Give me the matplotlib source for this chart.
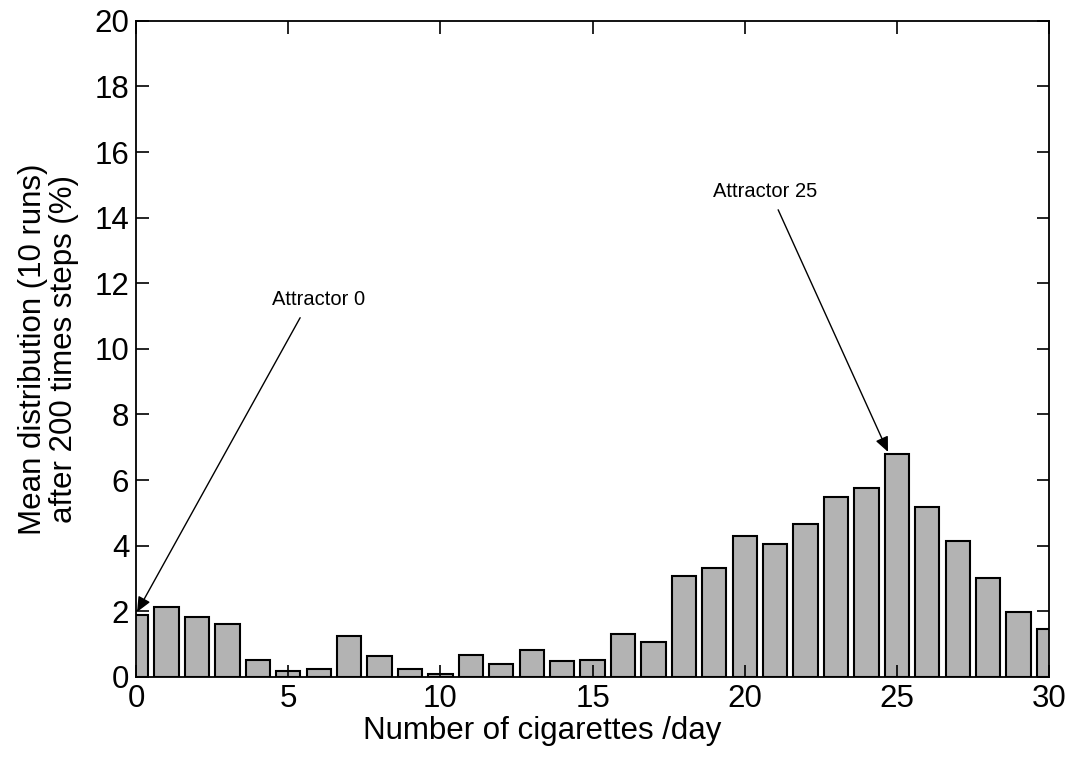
import matplotlib
matplotlib.use("Agg")
import matplotlib.pyplot as plt

plt.rcParams["font.family"] = ["Liberation Sans", "DejaVu Sans"]

# cigarettes per day and mean distribution (%)
cigarettes = list(range(0, 31))
distribution = [1.89, 2.14, 1.84, 1.60, 0.53, 0.18, 0.23, 1.26, 0.63, 0.24,
                0.09, 0.67, 0.38, 0.82, 0.49, 0.53, 1.30, 1.06, 3.07, 3.31,
                4.29, 4.05, 4.67, 5.47, 5.75, 6.78, 5.17, 4.14, 3.01, 1.99,
                1.45]

x_ticks = [0, 5, 10, 15, 20, 25, 30]
y_ticks = list(range(0, 21, 2))

fig = plt.figure(figsize=(10.72, 7.58), dpi=100)
ax = fig.add_axes([0.127, 0.107, 0.8515, 0.8655])

ax.bar(cigarettes, distribution, width=0.8, color="#b3b3b3",
       edgecolor="black", linewidth=1.5)

ax.set_xlim(0, 30)
ax.set_ylim(0, 20)
ax.set_xticks(x_ticks)
ax.set_yticks(y_ticks)
ax.tick_params(direction="in", top=True, right=True, length=9,
               width=1.2, labelsize=22.5, pad=5)
for s in ax.spines.values():
    s.set_linewidth(1.3)

# xlabel sits a bit left of centre in the original
ax.set_xlabel("Number of cigarettes /day", fontsize=22.5)
ax.xaxis.set_label_coords(0.445, -0.059, transform=ax.transAxes)
ax.set_ylabel("Mean distribution (10 runs)\nafter 200 times steps (%)",
              fontsize=22.5, labelpad=11, linespacing=1.05)

arrow = dict(arrowstyle="-|>,head_length=0.9,head_width=0.4",
             color="black", lw=1.0, shrinkA=0, shrinkB=0)
ax.annotate("", xy=(0.03, 1.98), xytext=(5.39, 10.95), arrowprops=arrow)
ax.text(5.98, 11.5, "Attractor 0", fontsize=14.5, ha="center", va="center")
ax.annotate("", xy=(24.71, 6.86), xytext=(21.1, 14.24), arrowprops=arrow)
ax.text(20.67, 14.8, "Attractor 25", fontsize=14.5, ha="center", va="center")

fig.savefig("out.png", dpi=100)
